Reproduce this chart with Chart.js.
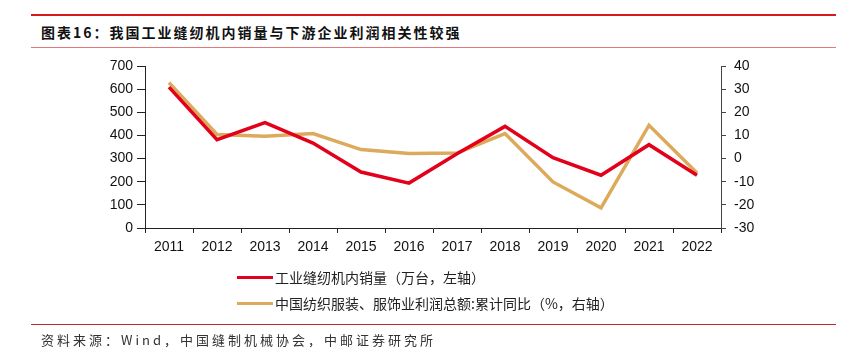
<!DOCTYPE html>
<html>
<head>
<meta charset="utf-8">
<script src="https://cdn.jsdelivr.net/npm/chart.js@4.4.1/dist/chart.umd.min.js"></script>
<style>
  body { margin: 0; background: #fff; }
  #wrap { position: relative; width: 863px; height: 351px; overflow: hidden; }
  #chart { position: absolute; left: 0; top: 0; }
  .rule { position: absolute; left: 31px; width: 805px; }
  #title {
    position: absolute; left: 41px; top: 22px;
    font: bold 14px "Noto Sans CJK SC", sans-serif; letter-spacing: 2px; color: #111;
    line-height: 20px; white-space: nowrap;
  }
  #source {
    position: absolute; left: 41px; top: 331px;
    font: 13px "Noto Sans CJK SC", sans-serif; letter-spacing: 3px; color: #333;
    line-height: 18px; white-space: nowrap;
  }
  .leg { position: absolute; left: 237px; height: 20px; white-space: nowrap; }
  .leg i { position: absolute; left: 0; top: 9px; width: 36px; height: 3px; }
  .leg span {
    position: absolute; left: 38px; top: 0; line-height: 20px;
    font: 14px "Noto Sans CJK SC", sans-serif; color: #222;
  }
</style>
</head>
<body>
<div id="wrap">
  <div class="rule" style="top:14px;height:2px;background:#d7191f;"></div>
  <div id="title">图表16：我国工业缝纫机内销量与下游企业利润相关性较强</div>
  <div class="rule" style="top:47px;height:1px;background:#e37a7a;"></div>
  <canvas id="chart" width="863" height="351"></canvas>
  <div id="legend"></div>
  <div class="rule" style="top:324px;height:1px;background:#c0272d;"></div>
  <div id="source">资料来源：Wind，中国缝制机械协会，中邮证券研究所</div>
</div>
<script>
  // categories
  var years = ['2011', '2012', '2013', '2014', '2015', '2016', '2017', '2018', '2019', '2020', '2021', '2022'];
  // 工业缝纫机内销量 (万台, left axis)
  var salesVals = [609, 382, 455, 367, 242, 194, 321, 439, 304, 228, 360, 228];
  // 中国纺织服装、服饰业利润总额:累计同比 (%, right axis)
  var profitVals = [32.8, 10.4, 9.6, 10.8, 3.9, 2.2, 2.4, 10.8, -10.1, -21.3, 14.4, -6.2];

  var seriesNames = ['工业缝纫机内销量（万台，左轴）', '中国纺织服装、服饰业利润总额:累计同比（%，右轴）'];
  var seriesColors = ['#e2001a', '#dcaa5a'];

  var leftRange = [0, 700, 100];
  var rightRange = [-30, 40, 10];

  var tickFont = { family: '"Liberation Sans", Arial, sans-serif', size: 14 };
  var axisColor = '#222';

  // legend, stacked vertically under the plot
  var legend = document.getElementById('legend');
  seriesNames.forEach(function (name, i) {
    var row = document.createElement('div');
    row.className = 'leg';
    row.style.top = (267 + i * 26) + 'px';
    row.innerHTML = '<i style="background:' + seriesColors[i] + '"></i><span>' + name + '</span>';
    legend.appendChild(row);
  });

  new Chart(document.getElementById('chart'), {
    type: 'line',
    data: {
      labels: years,
      datasets: [{
        label: seriesNames[0],
        data: salesVals,
        yAxisID: 'y',
        borderColor: seriesColors[0],
        borderWidth: 3.5,
        pointRadius: 0,
        tension: 0,
        fill: false
      }, {
        label: seriesNames[1],
        data: profitVals,
        yAxisID: 'y1',
        borderColor: seriesColors[1],
        borderWidth: 3.5,
        pointRadius: 0,
        tension: 0,
        fill: false
      }]
    },
    options: {
      responsive: false,
      animation: false,
      layout: { padding: { top: 66, left: 0, right: 0, bottom: 0 } },
      plugins: { legend: { display: false }, tooltip: { enabled: false } },
      scales: {
        x: {
          offset: true,
          grid: { offset: true, drawOnChartArea: false, tickLength: 5, color: axisColor },
          border: { color: axisColor, width: 1 },
          ticks: { font: tickFont, color: '#111', padding: 6, maxRotation: 0 },
          afterFit: function (s) { s.height = 123; }
        },
        y: {
          position: 'left',
          min: leftRange[0], max: leftRange[1],
          grid: { drawOnChartArea: false, tickLength: 8, color: axisColor },
          border: { color: axisColor, width: 1 },
          ticks: { stepSize: leftRange[2], font: tickFont, color: '#111', padding: 4 },
          afterFit: function (s) { s.width = 145; }
        },
        y1: {
          position: 'right',
          min: rightRange[0], max: rightRange[1],
          grid: { drawOnChartArea: false, tickLength: 5, color: '#444' },
          border: { color: '#444', width: 1 },
          ticks: { stepSize: rightRange[2], font: tickFont, color: '#111', padding: 8 },
          afterFit: function (s) { s.width = 142; }
        }
      }
    }
  });
</script>
</body>
</html>
